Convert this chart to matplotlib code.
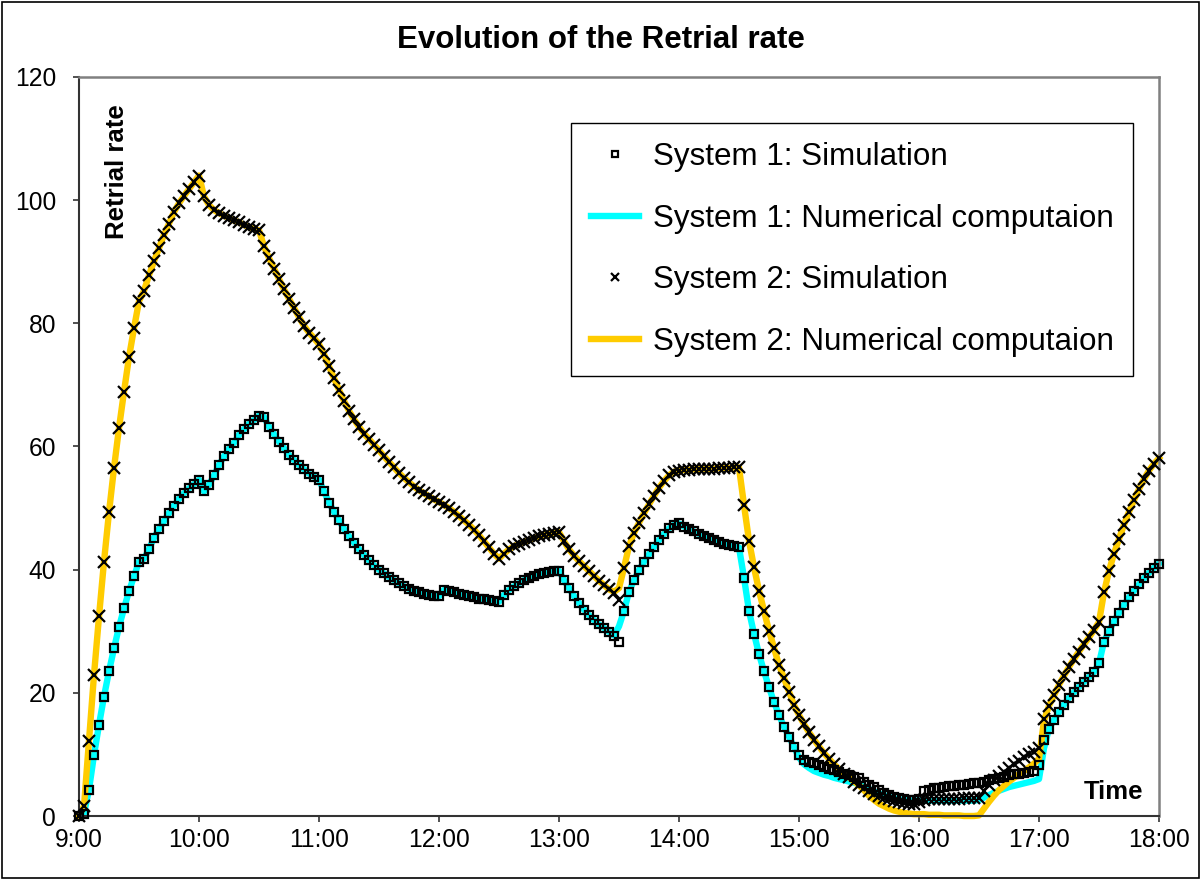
import numpy as np
import matplotlib
matplotlib.use("Agg")
import matplotlib.pyplot as plt
from matplotlib.patches import Rectangle

plt.rcParams['font.family'] = ['Liberation Sans', 'DejaVu Sans']

# sample times: every 2.5 minutes from 9:00 to 18:00 (hours)
minutes = np.arange(0, 541, 2.5)
hours = 9 + minutes / 60.0

# System 1, simulation (squares)
sim1 = [
    0.0, 0.4, 4.3, 9.9, 14.8, 19.4, 23.5, 27.2, 30.7, 33.7, 36.5, 38.9, 41.3, 41.8, 43.3, 45.2, 46.6, 47.9, 49.2, 50.4, 51.5, 52.4, 53.2, 53.9, 54.6,
    52.7, 53.8, 55.3, 57.0, 58.4, 59.6, 60.6, 61.9, 62.8, 63.7, 64.3, 65.0, 64.8, 63.2, 62.0, 60.8, 59.7, 58.6, 57.8, 57.0, 56.3, 55.6, 55.1, 54.6,
    52.7, 50.9, 49.4, 48.0, 46.6, 45.4, 44.4, 43.3, 42.4, 41.5, 40.7, 40.0, 39.4, 38.8, 38.3, 37.8, 37.3, 36.9, 36.6, 36.3, 36.1, 35.9, 35.8, 35.7,
    36.7, 36.5, 36.3, 36.1, 35.9, 35.7, 35.5, 35.3, 35.2, 35.0, 34.9, 34.8, 35.9, 36.7, 37.3, 37.8, 38.3, 38.7, 39.0, 39.3, 39.5, 39.7, 39.8, 39.8,
    38.3, 37.0, 35.7, 34.6, 33.5, 32.6, 31.8, 31.1, 30.5, 29.9, 29.3, 28.2, 33.3, 36.4, 38.3, 39.9, 41.3, 42.5, 43.7, 44.8, 45.8, 46.7, 47.3, 47.5,
    47.0, 46.6, 46.2, 45.8, 45.4, 45.1, 44.8, 44.5, 44.2, 44.0, 43.8, 43.6, 38.7, 33.3, 29.6, 26.3, 23.5, 20.9, 18.5, 16.4, 14.5, 12.9, 11.2, 9.9,
    9.1, 8.8, 8.6, 8.3, 8.0, 7.7, 7.5, 7.2, 6.9, 6.7, 6.4, 6.1, 5.6, 5.1, 4.7, 4.2, 3.8, 3.4, 3.1, 2.9, 2.7, 2.6, 2.6, 2.8,
    4.0, 4.3, 4.5, 4.6, 4.7, 4.8, 4.9, 5.0, 5.1, 5.2, 5.3, 5.4, 5.6, 5.8, 6.0, 6.2, 6.4, 6.6, 6.8, 6.9, 7.0, 7.1, 7.3, 8.3,
    12.3, 14.2, 15.6, 16.9, 18.1, 19.2, 20.1, 21.0, 21.8, 22.6, 23.4, 24.8, 28.3, 30.0, 31.6, 33.0, 34.3, 35.5, 36.6, 37.6, 38.6, 39.5, 40.3, 41.0,
]

# System 1, numerical computation (cyan line)
num1 = [
    0.0, 0.4, 4.3, 9.9, 14.8, 19.4, 23.5, 27.2, 30.7, 33.7, 36.5, 38.9, 41.3, 41.8, 43.3, 45.2, 46.6, 47.9, 49.2, 50.4, 51.5, 52.4, 53.2, 53.9, 54.6,
    52.7, 53.8, 55.3, 57.0, 58.4, 59.6, 60.6, 61.9, 62.8, 63.7, 64.3, 65.0, 64.8, 63.2, 62.0, 60.8, 59.7, 58.6, 57.8, 57.0, 56.3, 55.6, 55.1, 54.6,
    52.7, 50.9, 49.4, 48.0, 46.6, 45.4, 44.4, 43.3, 42.4, 41.5, 40.7, 40.0, 39.4, 38.8, 38.3, 37.8, 37.3, 36.9, 36.6, 36.3, 36.1, 35.9, 35.8, 35.7,
    36.7, 36.5, 36.3, 36.1, 35.9, 35.7, 35.5, 35.3, 35.2, 35.0, 34.9, 34.8, 35.9, 36.7, 37.3, 37.8, 38.3, 38.7, 39.0, 39.3, 39.5, 39.7, 39.8, 39.8,
    38.3, 37.0, 35.7, 34.6, 33.5, 32.6, 31.8, 31.1, 30.5, 29.9, 29.3, 30.8, 33.3, 36.4, 38.3, 39.9, 41.3, 42.5, 43.7, 44.8, 45.8, 46.7, 47.3, 47.5,
    47.0, 46.6, 46.2, 45.8, 45.4, 45.1, 44.8, 44.5, 44.2, 44.0, 43.8, 43.6, 38.7, 33.3, 29.6, 26.3, 23.5, 20.9, 18.5, 16.4, 14.5, 12.9, 11.2, 9.5,
    8.4, 7.8, 7.3, 7.0, 6.7, 6.5, 6.2, 6.0, 5.8, 5.6, 5.4, 5.2, 4.8, 4.4, 4.0, 3.7, 3.4, 3.1, 2.9, 2.7, 2.6, 2.5, 2.5, 2.5,
    2.5, 2.5, 2.5, 2.5, 2.5, 2.5, 2.5, 2.5, 2.5, 2.5, 2.5, 2.6, 3.0, 3.4, 3.8, 4.1, 4.4, 4.7, 4.9, 5.1, 5.3, 5.5, 5.7, 6.0,
    11.0, 14.2, 15.6, 16.9, 18.1, 19.2, 20.1, 21.0, 21.8, 22.6, 23.4, 24.8, 28.3, 30.0, 31.6, 33.0, 34.3, 35.5, 36.6, 37.6, 38.6, 39.5, 40.3, 41.0,
]

# System 2, simulation (crosses)
sim2 = [
    0.0, 1.6, 12.2, 22.9, 32.4, 41.3, 49.3, 56.5, 63.0, 68.9, 74.5, 79.2, 83.6, 85.3, 87.8, 90.1, 92.2, 94.4, 96.2, 98.1, 99.5, 100.7, 101.8, 102.9, 104.0,
    100.6, 99.2, 98.4, 97.9, 97.5, 97.1, 96.7, 96.4, 96.0, 95.6, 95.3, 95.1, 92.5, 90.6, 88.9, 87.2, 85.5, 84.0, 82.5, 81.0, 79.6, 78.5, 77.6, 76.6,
    75.0, 73.0, 71.1, 69.2, 67.4, 65.8, 64.4, 63.2, 62.1, 61.2, 60.3, 59.4, 58.4, 57.5, 56.6, 55.7, 54.9, 54.2, 53.5, 52.9, 52.4, 51.9, 51.4, 51.0,
    50.5, 50.0, 49.4, 48.7, 48.0, 47.3, 46.5, 45.6, 44.6, 43.6, 42.6, 41.8, 42.6, 43.3, 43.8, 44.2, 44.5, 44.8, 45.1, 45.4, 45.6, 45.8, 46.0, 46.1,
    44.6, 43.3, 42.3, 41.4, 40.6, 39.8, 39.0, 38.2, 37.5, 36.8, 36.2, 35.0, 40.3, 43.8, 46.0, 47.6, 49.2, 50.6, 52.0, 53.3, 54.4, 55.3, 55.9, 56.1,
    56.2, 56.2, 56.3, 56.3, 56.4, 56.4, 56.4, 56.5, 56.5, 56.5, 56.6, 56.6, 50.5, 44.7, 40.4, 36.6, 33.3, 30.1, 27.3, 24.5, 22.4, 20.2, 18.0, 16.4,
    14.9, 13.6, 12.4, 11.3, 10.2, 9.3, 8.4, 7.6, 6.9, 6.3, 5.6, 5.0, 4.5, 4.0, 3.6, 3.2, 2.9, 2.7, 2.5, 2.3, 2.1, 2.0, 2.0, 2.2,
    2.6, 2.7, 2.7, 2.7, 2.8, 2.8, 2.8, 2.8, 2.9, 2.9, 2.9, 3.0, 4.0, 5.0, 5.8, 6.5, 7.2, 7.8, 8.4, 9.0, 9.5, 10.0, 10.4, 11.0,
    15.8, 17.9, 19.6, 21.3, 22.8, 24.2, 25.5, 26.7, 27.9, 29.0, 30.2, 31.5, 36.3, 39.8, 42.6, 45.0, 47.3, 49.4, 51.3, 53.1, 54.7, 56.1, 57.2, 58.1,
]

# System 2, numerical computation (yellow line)
num2 = [
    0.0, 1.6, 12.2, 22.9, 32.4, 41.3, 49.3, 56.5, 63.0, 68.9, 74.5, 79.2, 83.6, 85.3, 87.8, 90.1, 92.2, 94.4, 96.2, 98.1, 99.5, 100.7, 101.8, 102.9, 104.0,
    100.6, 99.2, 98.4, 97.9, 97.5, 97.1, 96.7, 96.4, 96.0, 95.6, 95.3, 95.1, 92.5, 90.6, 88.9, 87.2, 85.5, 84.0, 82.5, 81.0, 79.6, 78.5, 77.6, 76.6,
    75.0, 73.0, 71.1, 69.2, 67.4, 65.8, 64.4, 63.2, 62.1, 61.2, 60.3, 59.4, 58.4, 57.5, 56.6, 55.7, 54.9, 54.2, 53.5, 52.9, 52.4, 51.9, 51.4, 51.0,
    50.5, 50.0, 49.4, 48.7, 48.0, 47.3, 46.5, 45.6, 44.6, 43.6, 42.6, 41.8, 42.6, 43.3, 43.8, 44.2, 44.5, 44.8, 45.1, 45.4, 45.6, 45.8, 46.0, 46.1,
    44.6, 43.3, 42.3, 41.4, 40.6, 39.8, 39.0, 38.2, 37.5, 36.8, 36.4, 37.0, 40.3, 43.8, 46.0, 47.6, 49.2, 50.6, 52.0, 53.3, 54.4, 55.3, 55.9, 56.1,
    56.2, 56.2, 56.3, 56.3, 56.4, 56.4, 56.4, 56.5, 56.5, 56.5, 56.6, 56.6, 50.5, 44.7, 40.4, 36.6, 33.3, 30.1, 27.3, 24.5, 22.4, 20.2, 18.0, 16.4,
    14.9, 13.6, 12.4, 11.3, 10.2, 9.3, 8.4, 7.6, 6.9, 6.3, 5.6, 5.0, 4.2, 3.3, 2.6, 2.0, 1.6, 1.2, 0.9, 0.7, 0.5, 0.4, 0.3, 0.3,
    0.3, 0.2, 0.2, 0.2, 0.1, 0.1, 0.1, 0.1, 0.0, 0.0, 0.0, 0.1, 1.2, 2.3, 3.3, 4.2, 4.9, 5.6, 6.2, 6.8, 7.3, 7.9, 8.5, 9.3,
    15.5, 17.9, 19.6, 21.3, 22.8, 24.2, 25.5, 26.7, 27.9, 29.0, 30.2, 31.5, 36.3, 39.8, 42.6, 45.0, 47.3, 49.4, 51.3, 53.1, 54.7, 56.1, 57.2, 58.1,
]

xticks = list(range(9, 19))
xlabels = ['%d:00' % h for h in xticks]
yticks = [0, 20, 40, 60, 80, 100, 120]

W, H = 1201, 880
fig = plt.figure(figsize=(W / 100, H / 100), dpi=100)
ax = fig.add_axes([79 / W, 1 - 816 / H, (1159 - 79) / W, (816 - 77) / H])

ax.plot(hours, num1, color='#00FFFF', lw=4.6, solid_joinstyle='round',
        label='System 1: Numerical computaion', zorder=2, clip_on=False)
ax.plot(hours, num2, color='#FFCC00', lw=4.6, solid_joinstyle='round',
        label='System 2: Numerical computaion', zorder=2, clip_on=False)
ax.plot(hours, sim1, ls='none', marker='s', ms=6.0, mfc='none', mec='black',
        mew=1.6, label='System 1: Simulation', zorder=3, clip_on=False)
ax.plot(hours, sim2, ls='none', marker='x', ms=8.2, mec='black',
        mew=1.6, label='System 2: Simulation', zorder=4, clip_on=False)

ax.set_xlim(9, 18)
ax.set_ylim(0, 120)
ax.set_xticks(xticks)
ax.set_xticklabels(xlabels)
ax.set_yticks(yticks)
ax.tick_params(axis='both', direction='out', length=4.5, width=1.2,
               labelsize=17.7, color='#333333')
ax.tick_params(axis='y', pad=12)
ax.tick_params(axis='x', pad=4)
for s in ['left', 'bottom']:
    ax.spines[s].set_color('#333333')
    ax.spines[s].set_linewidth(1.5)
for s in ['top', 'right']:
    ax.spines[s].set_color('#808080')
    ax.spines[s].set_linewidth(1.8)

handles, labels = ax.get_legend_handles_labels()
order = [2, 0, 3, 1]
leg = ax.legend([handles[i] for i in order], [labels[i] for i in order],
                loc='upper right', bbox_to_anchor=((1133 - 79) / 1080, (816 - 123) / 739),
                borderaxespad=0, fontsize=22.6, numpoints=1, handlelength=1.55,
                handletextpad=0.42, labelspacing=1.0, borderpad=0.62,
                fancybox=False, framealpha=1, edgecolor='black')
leg.get_frame().set_linewidth(1.0)
leg.legend_handles[0].set_markersize(5)
leg.legend_handles[2].set_markersize(6)

fig.text(0.5, 1 - 40 / H, 'Evolution of the Retrial rate', ha='center', va='center',
         fontsize=22.5, fontweight='bold')
fig.text(117 / W, 1 - 172 / H, 'Retrial rate', ha='center', va='center',
         rotation=90, fontsize=18.5, fontweight='bold')
fig.text(1113 / W, 1 - 792 / H, 'Time', ha='center', va='center',
         fontsize=18.5, fontweight='bold')

fig.patches.append(Rectangle((0.0015, 0.002), 0.997, 0.996, transform=fig.transFigure,
                             fill=False, edgecolor='black', lw=1.2))

fig.savefig('out.png', dpi=100)
